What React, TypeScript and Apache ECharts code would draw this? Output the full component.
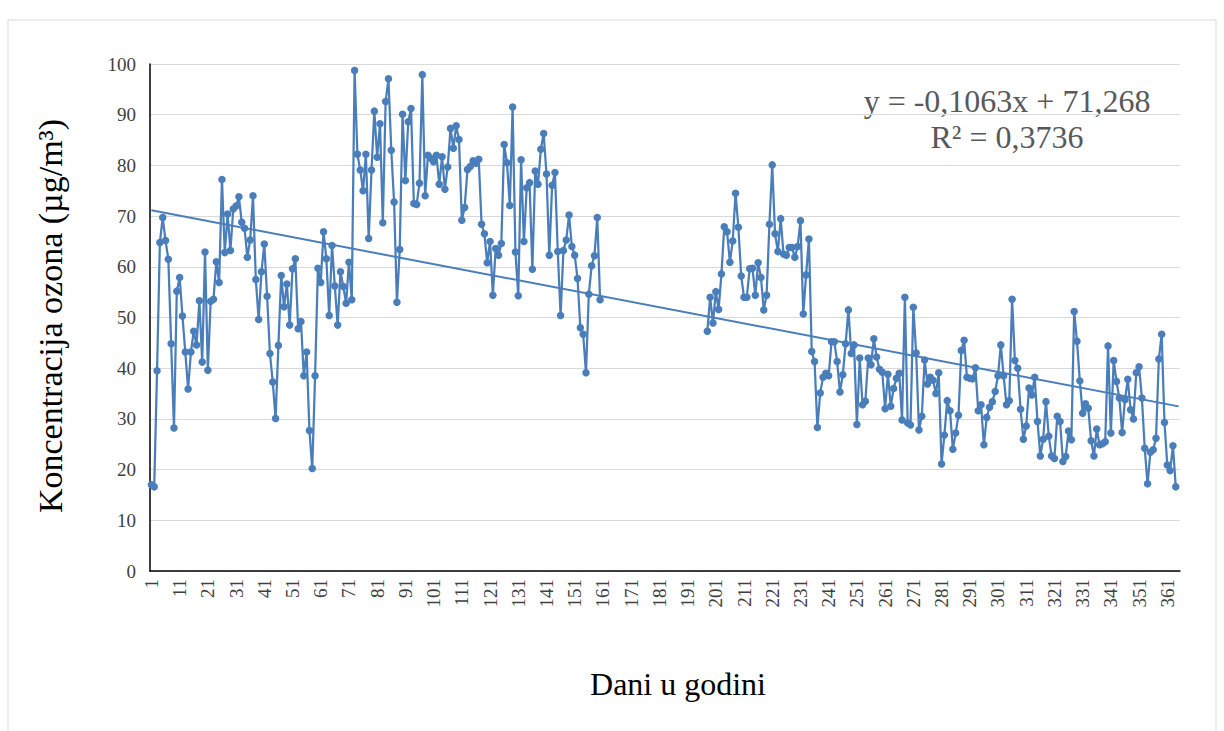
import React, { useEffect, useRef } from "react";
import * as echarts from "echarts";

// Ozone concentration (µg/m³), days 1–160
const firstPeriod = [
  17.0, 16.6, 39.5, 64.8, 69.7, 65.2, 61.5, 44.8, 28.2, 55.2,
  57.9, 50.3, 43.2, 35.9, 43.2, 47.3, 44.6, 53.3, 41.2, 62.9,
  39.6, 53.2, 53.6, 61.0, 56.9, 77.2, 62.8, 70.4, 63.2, 71.4,
  72.0, 73.8, 68.8, 67.6, 61.9, 65.3, 74.0, 57.5, 49.6, 59.0,
  64.5, 54.2, 42.9, 37.3, 30.1, 44.5, 58.3, 52.1, 56.6, 48.5,
  59.6, 61.6, 47.8, 49.2, 38.5, 43.2, 27.7, 20.2, 38.5, 59.7,
  56.9, 66.9, 61.6, 50.4, 64.2, 56.2, 48.5, 59.0, 56.1, 52.8,
  60.9, 53.5, 98.7, 82.2, 79.1, 75.0, 82.2, 65.6, 79.1, 90.7,
  81.6, 88.2, 68.7, 92.6, 97.1, 83.0, 72.8, 53.0, 63.4, 90.1,
  77.0, 88.6, 91.2, 72.5, 72.3, 76.5, 97.9, 74.0, 82.0, 81.4,
  80.7, 82.0, 76.3, 81.7, 75.3, 79.7, 87.3, 83.4, 87.8, 85.1,
  69.2, 71.7, 79.2, 79.8, 80.9, 80.4, 81.2, 68.4, 66.5, 60.8,
  65.0, 54.4, 63.6, 62.3, 64.6, 84.1, 80.5, 72.1, 91.5, 62.9,
  54.3, 81.1, 65.0, 75.6, 76.6, 59.5, 78.9, 76.3, 83.2, 86.3,
  78.3, 62.3, 76.1, 78.6, 63.0, 50.4, 63.2, 65.3, 70.2, 64.0,
  62.3, 57.7, 48.0, 46.7, 39.1, 54.6, 60.2, 62.2, 69.7, 53.5,
];

// Days 161–197 have no measurements
const missingDays = 37;

// Ozone concentration (µg/m³), days 198–364
const secondPeriod = [
  47.3, 54.0, 48.9, 55.1, 51.6, 58.6, 67.9, 66.9, 60.9, 65.1,
  74.5, 67.8, 58.2, 54.0, 54.0, 59.6, 59.7, 54.4, 60.8, 57.9,
  51.5, 54.4, 68.4, 80.1, 66.5, 63.0, 69.5, 62.5, 62.3, 63.8,
  63.8, 61.9, 64.0, 69.1, 50.7, 58.4, 65.5, 43.3, 41.3, 28.3,
  35.1, 38.2, 39.0, 38.5, 45.2, 45.2, 41.3, 35.3, 38.7, 44.8,
  51.5, 42.9, 44.6, 28.9, 42.0, 32.8, 33.5, 42.0, 40.7, 45.8,
  42.2, 39.8, 39.2, 32.0, 38.8, 32.5, 36.0, 38.0, 39.0, 29.8,
  54.0, 29.2, 28.8, 52.0, 43.0, 27.8, 30.5, 41.6, 36.9, 38.2,
  37.6, 35.0, 39.1, 21.1, 26.8, 33.6, 31.6, 24.0, 27.2, 30.7,
  43.5, 45.5, 38.2, 38.0, 37.9, 40.1, 31.6, 32.8, 24.9, 30.3,
  32.3, 33.4, 35.4, 38.5, 44.6, 38.5, 32.8, 33.6, 53.6, 41.5,
  40.0, 31.9, 26.0, 28.6, 36.1, 34.7, 38.2, 29.5, 22.7, 26.0,
  33.4, 26.6, 22.7, 22.2, 30.5, 29.5, 21.6, 22.6, 27.6, 25.9,
  51.2, 45.3, 37.5, 31.1, 33.0, 32.1, 25.7, 22.7, 28.0, 24.9,
  25.1, 25.5, 44.4, 27.2, 41.5, 37.4, 34.1, 27.3, 33.8, 37.8,
  31.8, 30.0, 39.1, 40.3, 34.1, 24.2, 17.2, 23.4, 23.9, 26.2,
  41.8, 46.7, 29.3, 20.9, 19.8, 24.7, 16.6,
];

const dayCount = 365;
const trendSlope = -0.1063;
const trendIntercept = 71.268;
const equationText = "y = -0,1063x + 71,268";
const r2Text = "R² = 0,3736";
const yTitle = "Koncentracija ozona (µg/m³)";
const xTitle = "Dani u godini";

const serif = "'Liberation Serif', 'Times New Roman', serif";
const blue = "#4A7EBB";

export default function App() {
  const ref = useRef<HTMLDivElement>(null);
  useEffect(() => {
    const chart = echarts.init(ref.current!, null, { renderer: "svg" });
    const days = Array.from({ length: dayCount }, (_, i) => String(i + 1));
    const gap: (number | null)[] = Array(missingDays).fill(null);
    const ozone: (number | null)[] = [...firstPeriod, ...gap, ...secondPeriod];
    const trend = days.map((d, i) =>
      i === 0 || i === days.length - 1 ? trendSlope * Number(d) + trendIntercept : null
    );
    chart.setOption({
      animation: false,
      backgroundColor: "#ffffff",
      grid: { left: 150, top: 64, width: 1030, height: 507 },
      xAxis: {
        type: "category",
        data: days,
        boundaryGap: true,
        axisLine: { show: true, lineStyle: { color: "#000000", width: 1.5 } },
        axisTick: { show: false },
        axisLabel: {
          interval: 9,
          rotate: 90,
          fontFamily: serif,
          fontSize: 19,
          color: "#404040",
          margin: 8,
        },
        splitLine: { show: false },
      },
      yAxis: {
        type: "value",
        min: 0,
        max: 100,
        interval: 10,
        axisLine: { show: true, lineStyle: { color: "#000000", width: 1.5 } },
        axisTick: { show: false },
        axisLabel: { fontFamily: serif, fontSize: 19, color: "#404040", margin: 14 },
        splitLine: { lineStyle: { color: "#d9d9d9", width: 1 } },
      },
      series: [
        {
          type: "line",
          data: ozone,
          symbol: "circle",
          symbolSize: 7.5,
          showAllSymbol: true,
          connectNulls: false,
          lineStyle: { color: blue, width: 2.25 },
          itemStyle: { color: blue },
          z: 2,
        },
        {
          type: "line",
          data: trend,
          symbol: "none",
          connectNulls: true,
          lineStyle: { color: blue, width: 2 },
          z: 3,
        },
      ],
      graphic: [
        {
          type: "rect",
          shape: { x: 8, y: 20, width: 1208, height: 720 },
          style: { fill: "none", stroke: "#d9d9d9", lineWidth: 1 },
          silent: true,
        },
        {
          type: "text",
          x: 50,
          y: 316,
          rotation: Math.PI / 2,
          style: {
            text: yTitle,
            font: `34px ${serif}`,
            fill: "#000000",
            align: "center",
            verticalAlign: "middle",
          },
        },
        {
          type: "text",
          x: 678,
          y: 684,
          style: {
            text: xTitle,
            font: `32px ${serif}`,
            fill: "#000000",
            align: "center",
            verticalAlign: "middle",
          },
        },
        {
          type: "text",
          x: 1007,
          y: 101,
          style: {
            text: equationText,
            font: `32px ${serif}`,
            fill: "#595959",
            align: "center",
            verticalAlign: "middle",
          },
        },
        {
          type: "text",
          x: 1007,
          y: 137,
          style: {
            text: r2Text,
            font: `32px ${serif}`,
            fill: "#595959",
            align: "center",
            verticalAlign: "middle",
          },
        },
      ],
    });
    return () => chart.dispose();
  }, []);
  return (
    <div
      ref={ref}
      style={{ position: "fixed", left: 0, top: 0, width: 1224, height: 731 }}
    />
  );
}
